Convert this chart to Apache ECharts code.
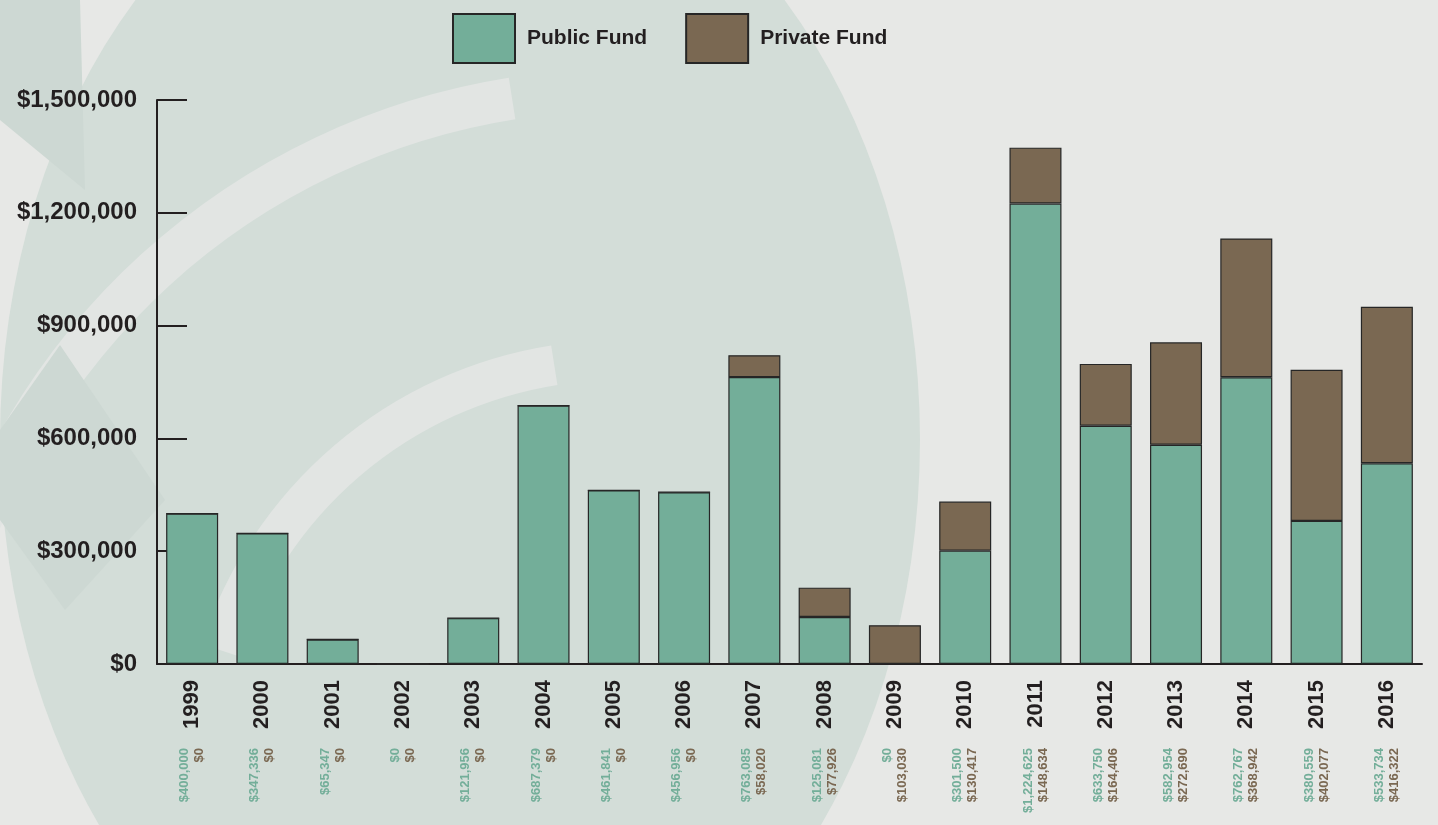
<!DOCTYPE html>
<html>
<head>
<meta charset="utf-8">
<title>Public and Private Fund</title>
<script src="https://cdn.jsdelivr.net/npm/echarts@6/dist/echarts.min.js"></script>
<style>
  html, body { margin: 0; padding: 0; }
  #chart { width: 1438px; height: 825px; }
</style>
</head>
<body>
<div id="chart"></div>
<script>
// data
const years = ['1999', '2000', '2001', '2002', '2003', '2004', '2005', '2006', '2007',
  '2008', '2009', '2010', '2011', '2012', '2013', '2014', '2015', '2016']
const publicFund = [400000, 347336, 65347, 0, 121956, 687379, 461841, 456956, 763085,
  125081, 0, 301500, 1224625, 633750, 582954, 762767, 380559, 533734]
const privateFund = [0, 0, 0, 0, 0, 0, 0, 0, 58020,
  77926, 103030, 130417, 148634, 164406, 272690, 368942, 402077, 416322]
const yTicks = [0, 300000, 600000, 900000, 1200000, 1500000]

const font = "'Liberation Sans', Arial, sans-serif"
const ink = '#231f20'
const green = '#73ae99'
const brown = '#7a6852'

function money (v) {
  return '$' + Number(v).toLocaleString('en-US')
}

const chart = echarts.init(document.getElementById('chart'))

// 背景的大色块，只是大概的样子
const bgShapes = [
  { type: 'circle', shape: { cx: 460, cy: 440, r: 460 }, scaleY: 1.35, originX: 460, originY: 440,
    style: { fill: '#d3ddd8' } },
  { type: 'arc', shape: { cx: 620, cy: 780, r: 690, startAngle: Math.PI * 1.08, endAngle: Math.PI * 1.45 },
    style: { stroke: '#e2e5e3', lineWidth: 42, fill: null } },
  { type: 'arc', shape: { cx: 620, cy: 780, r: 420, startAngle: Math.PI * 1.1, endAngle: Math.PI * 1.45 },
    style: { stroke: '#e2e5e3', lineWidth: 40, fill: null } },
  { type: 'polygon', shape: { points: [[60, 345], [165, 500], [65, 610], [0, 520], [0, 430]] },
    style: { fill: '#cdd8d3' } },
  { type: 'polygon', shape: { points: [[0, 0], [80, 0], [85, 190], [0, 120]] },
    style: { fill: '#cdd8d3' } }
]

const option = {
  backgroundColor: '#e7e8e6',
  animation: false,
  graphic: [{ type: 'group', silent: true, z: -10, children: bgShapes }],
  legend: {
    left: 452,
    top: 13,
    padding: 0,
    itemWidth: 62,
    itemHeight: 49,
    itemGap: 38,
    icon: 'rect',
    textStyle: { color: ink, fontFamily: font, fontWeight: 'bold', fontSize: 21, padding: [0, 0, 0, 7] },
    data: ['Public Fund', 'Private Fund']
  },
  grid: { left: 157, right: 16, top: 100, bottom: 161 },
  xAxis: [
    {
      type: 'category',
      data: years,
      axisLine: { lineStyle: { color: ink, width: 2 } },
      axisTick: { inside: true, length: 12, lineStyle: { color: ink, width: 2 } },
      axisLabel: {
        rotate: 90, margin: 16, interval: 0,
        color: ink, fontFamily: font, fontWeight: 'bold', fontSize: 22
      }
    },
    {
      type: 'category',
      position: 'bottom',
      data: years,
      axisLine: { show: false },
      axisTick: { show: false },
      axisLabel: {
        rotate: 90, margin: 84, interval: 0,
        formatter: function (v, i) {
          return '{g|' + money(publicFund[i]) + '}\n{b|' + money(privateFund[i]) + '}'
        },
        rich: {
          g: { color: green, fontFamily: font, fontWeight: 'bold', fontSize: 13, lineHeight: 15, align: 'right' },
          b: { color: brown, fontFamily: font, fontWeight: 'bold', fontSize: 13, lineHeight: 15, align: 'right' }
        }
      }
    }
  ],
  yAxis: {
    type: 'value',
    min: 0,
    max: 1500000,
    interval: 300000,
    axisLine: { show: true, lineStyle: { color: ink, width: 2 } },
    axisTick: { show: true, inside: true, length: 30, lineStyle: { color: ink, width: 2 } },
    splitLine: { show: false },
    axisLabel: {
      margin: 20,
      color: ink, fontFamily: font, fontWeight: 'bold', fontSize: 24,
      formatter: function (v) {
        return yTicks.indexOf(v) >= 0 ? money(v) : ''
      }
    }
  },
  series: [
    {
      name: 'Public Fund',
      type: 'bar',
      stack: 'total',
      barWidth: '74%',
      data: publicFund,
      itemStyle: { color: green, borderColor: '#262626', borderWidth: 1.2 }
    },
    {
      name: 'Private Fund',
      type: 'bar',
      stack: 'total',
      barWidth: '74%',
      data: privateFund,
      itemStyle: { color: brown, borderColor: '#262626', borderWidth: 1.2 }
    }
  ]
}

chart.setOption(option)
window.addEventListener('resize', () => {
  chart.resize()
})
</script>
</body>
</html>
